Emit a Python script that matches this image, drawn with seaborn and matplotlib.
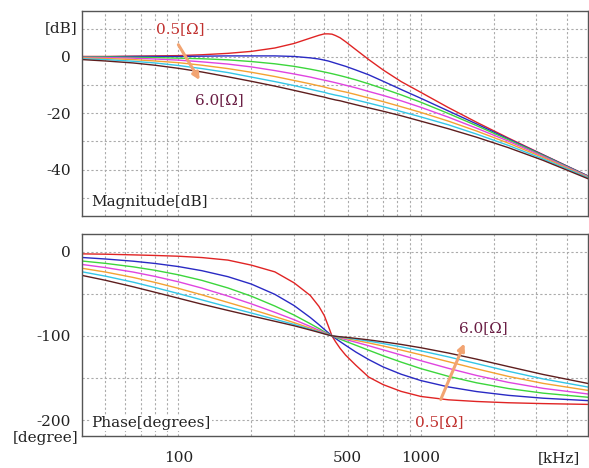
import matplotlib
matplotlib.use('Agg')
import matplotlib.pyplot as plt
import pandas as pd
import seaborn as sns

# frequency points [kHz]
freq_khz = [40, 50, 65, 80, 100, 125, 160, 200, 250, 300, 350, 380, 400, 415,
            430, 445, 465, 490, 540, 610, 700, 830, 1000, 1300, 1700, 2300, 3200, 5000]

# damping resistance, 0.5 ohm ... 6.0 ohm
curves = ['0.5', '1', '2', '3', '4', '5', '6.0']
line_colors = ['#E02424', '#2A2AC4', '#3CD63C', '#E044E0', '#F4A232', '#34C6E6', '#5E1E1E']

# magnitude [dB]
mag_05 = [0.1, 0.1, 0.2, 0.3, 0.4, 0.7, 1.2, 1.9, 3.1, 4.7, 6.6, 7.6, 8.1, 8.1,
          8.0, 7.5, 6.7, 5.3, 2.5, -1.0, -4.7, -8.8, -12.6, -18.0, -23.2, -28.8, -34.7, -42.6]
mag_1 = [0.0, 0.0, 0.1, 0.1, 0.1, 0.2, 0.3, 0.3, 0.3, 0.1, -0.4, -0.8, -1.2, -1.5,
         -1.9, -2.3, -2.8, -3.4, -4.7, -6.4, -8.7, -11.6, -14.7, -19.2, -23.8, -29.1, -34.8, -42.6]
mag_2 = [-0.1, -0.1, -0.2, -0.3, -0.5, -0.7, -1.1, -1.7, -2.5, -3.4, -4.4, -5.0, -5.4, -5.7,
         -6.0, -6.3, -6.7, -7.2, -8.2, -9.6, -11.3, -13.5, -16.1, -20.1, -24.4, -29.4, -35.0, -42.7]
mag_3 = [-0.2, -0.3, -0.5, -0.8, -1.2, -1.8, -2.6, -3.6, -4.9, -6.1, -7.2, -7.9, -8.3, -8.6,
         -8.9, -9.2, -9.6, -10.1, -11.0, -12.3, -13.7, -15.6, -17.9, -21.4, -25.3, -29.9, -35.3, -42.8]
mag_4 = [-0.4, -0.6, -1.0, -1.5, -2.1, -3.0, -4.2, -5.5, -7.0, -8.4, -9.6, -10.3, -10.7, -11.1,
         -11.4, -11.7, -12.1, -12.5, -13.4, -14.6, -15.9, -17.7, -19.7, -22.8, -26.3, -30.6, -35.7, -43.0]
mag_5 = [-0.7, -1.0, -1.6, -2.2, -3.1, -4.2, -5.6, -7.2, -8.8, -10.2, -11.5, -12.2, -12.6, -13.0,
         -13.3, -13.6, -13.9, -14.4, -15.3, -16.4, -17.7, -19.4, -21.3, -24.1, -27.4, -31.4, -36.2, -43.2]
mag_6 = [-1.0, -1.5, -2.2, -3.0, -4.1, -5.4, -7.1, -8.7, -10.4, -11.9, -13.2, -13.9, -14.3, -14.7,
         -15.0, -15.3, -15.6, -16.1, -17.0, -18.1, -19.3, -20.9, -22.8, -25.5, -28.5, -32.2, -36.7, -43.5]

# phase [degree], as read on the chart's scale (curves cross at the -100 line)
ph_05 = [-2.6, -3.0, -3.8, -4.5, -5.4, -7.0, -10.0, -16.0, -24.0, -37.0, -52.0, -65.0, -76.0, -88.0,
         -100.0, -107.0, -115.0, -123.0, -135.0, -149.0, -158.0, -166.0, -172.0, -176.0, -178.0, -179.5, -180.5, -181.5]
ph_1 = [-6.9, -8.7, -11.3, -14.0, -17.7, -22.6, -29.7, -38.5, -50.7, -64.0, -78.2, -86.7, -92.3, -96.2,
        -100.0, -103.1, -106.9, -111.3, -119.3, -128.2, -137.0, -145.6, -153.1, -160.7, -166.2, -170.7, -174.1, -177.1]
ph_2 = [-11.1, -13.9, -18.0, -22.1, -27.5, -34.1, -43.1, -52.9, -64.6, -75.3, -85.6, -91.3, -95.1, -97.6,
        -100.0, -101.8, -104.0, -106.5, -111.2, -117.1, -123.7, -131.2, -138.9, -148.1, -155.8, -162.6, -168.1, -173.2]
ph_3 = [-15.2, -18.9, -24.2, -29.4, -35.8, -43.3, -52.7, -62.0, -72.1, -80.8, -88.9, -93.3, -96.2, -98.2,
        -100.0, -101.2, -102.7, -104.4, -107.6, -111.8, -116.7, -122.8, -129.5, -138.6, -147.1, -155.3, -162.4, -169.4]
ph_4 = [-19.7, -24.2, -30.6, -36.5, -43.6, -51.3, -60.3, -68.5, -77.1, -84.3, -90.9, -94.6, -97.0, -98.5,
        -100.0, -100.9, -101.9, -103.1, -105.4, -108.4, -112.1, -116.9, -122.5, -130.7, -139.2, -148.2, -156.5, -165.2]
ph_5 = [-23.9, -29.1, -36.2, -42.6, -49.8, -57.3, -65.6, -72.9, -80.3, -86.4, -92.2, -95.3, -97.4, -98.7,
        -100.0, -100.7, -101.5, -102.3, -104.0, -106.3, -109.2, -113.1, -117.8, -125.0, -133.0, -142.1, -151.2, -161.3]
ph_6 = [-28.2, -34.0, -41.7, -48.2, -55.3, -62.4, -69.8, -76.3, -82.7, -88.0, -93.1, -95.9, -97.7, -98.9,
        -100.0, -100.5, -101.1, -101.7, -103.0, -104.8, -107.1, -110.2, -114.1, -120.4, -127.7, -136.5, -145.9, -157.1]

grid_freqs = [50, 60, 70, 80, 90, 100, 200, 300, 400, 500, 600, 700, 800, 900, 1000, 2000, 3000, 4000]
freq_labels = {100: '100', 500: '500', 1000: '1000'}

# long table for seaborn
mags = [mag_05, mag_1, mag_2, mag_3, mag_4, mag_5, mag_6]
phases = [ph_05, ph_1, ph_2, ph_3, ph_4, ph_5, ph_6]
rows = []
for name, m, p in zip(curves, mags, phases):
    for f, mv, pv in zip(freq_khz, m, p):
        rows.append({'freq': f, 'mag': mv, 'phase': pv, 'R': name})
df = pd.DataFrame(rows)

sns.set_style('white')
plt.rcParams['font.family'] = ['DejaVu Serif', 'DejaVu Sans']
plt.rcParams['font.size'] = 11

W, H = 589, 468
fig = plt.figure(figsize=(W / 100, H / 100), dpi=100)
ax1 = fig.add_axes([82 / W, 1 - 216 / H, 506 / W, 205 / H])
ax2 = fig.add_axes([82 / W, 1 - 436 / H, 506 / W, 202 / H])

for ax, col in [(ax1, 'mag'), (ax2, 'phase')]:
    sns.lineplot(data=df, x='freq', y=col, hue='R', hue_order=curves, palette=line_colors,
                 ax=ax, legend=False, linewidth=1.0, estimator=None)
    ax.set_xscale('log')
    ax.set_xlim(40, 4900)
    ax.set_xticks(grid_freqs)
    ax.minorticks_off()
    ax.grid(True, color='#ababab', linestyle=(0, (2, 2)), linewidth=0.8)
    ax.tick_params(length=0, pad=8, labelcolor='#222222')
    ax.set_xlabel('')
    ax.set_ylabel('')
    for s in ax.spines.values():
        s.set_color('#555555')
        s.set_linewidth(1.0)

# magnitude panel
ax1.set_ylim(-56.4, 16.2)
ax1.set_yticks([10, 0, -10, -20, -30, -40, -50])
ax1.set_yticklabels(['', '0', '', '-20', '', '-40', ''])
ax1.set_xticklabels([''] * len(grid_freqs))
ax1.text(0.018, 0.068, 'Magnitude[dB]', transform=ax1.transAxes, va='center', ha='left',
         color='#222222', bbox=dict(facecolor='white', edgecolor='none', pad=1))
ax1.text(102, 9.7, '0.5[Ω]', color='#C0302E', ha='center', va='center',
         bbox=dict(facecolor='white', edgecolor='none', pad=0.5))
ax1.text(147, -15.2, '6.0[Ω]', color='#6A1E44', ha='center', va='center',
         bbox=dict(facecolor='white', edgecolor='none', pad=0.5))
ax1.annotate('', xy=(124, -9.1), xytext=(98.6, 5.1),
             arrowprops=dict(arrowstyle='-|>', color='#F2A472', lw=2.2, mutation_scale=10))

# phase panel
ax2.set_ylim(-219, 21)
ax2.set_yticks([0, -50, -100, -150, -200])
ax2.set_yticklabels(['0', '', '-100', '', '-200'])
ax2.set_xticklabels([freq_labels.get(f, '') for f in grid_freqs])
ax2.tick_params(axis='x', pad=11)
ax2.text(0.018, 0.064, 'Phase[degrees]', transform=ax2.transAxes, va='center', ha='left',
         color='#222222', bbox=dict(facecolor='white', edgecolor='none', pad=1))
ax2.text(1819, -90.7, '6.0[Ω]', color='#6A1E44', ha='center', va='center',
         bbox=dict(facecolor='white', edgecolor='none', pad=0.5))
ax2.text(1187, -202.4, '0.5[Ω]', color='#C0302E', ha='center', va='center',
         bbox=dict(facecolor='white', edgecolor='none', pad=0.5))
ax2.annotate('', xy=(1530, -106), xytext=(1197, -178.6),
             arrowprops=dict(arrowstyle='-|>', color='#F2A472', lw=2.2, mutation_scale=10))

# unit labels outside the axes
fig.text(61 / W, 1 - 28.5 / H, '[dB]', ha='center', va='center', color='#222222')
fig.text(46 / W, 1 - 438 / H, '[degree]', ha='center', va='center', color='#222222')
fig.text(559 / W, 1 - 458 / H, '[kHz]', ha='center', va='center', color='#222222')

fig.savefig('out.png', dpi=100, facecolor='white')
